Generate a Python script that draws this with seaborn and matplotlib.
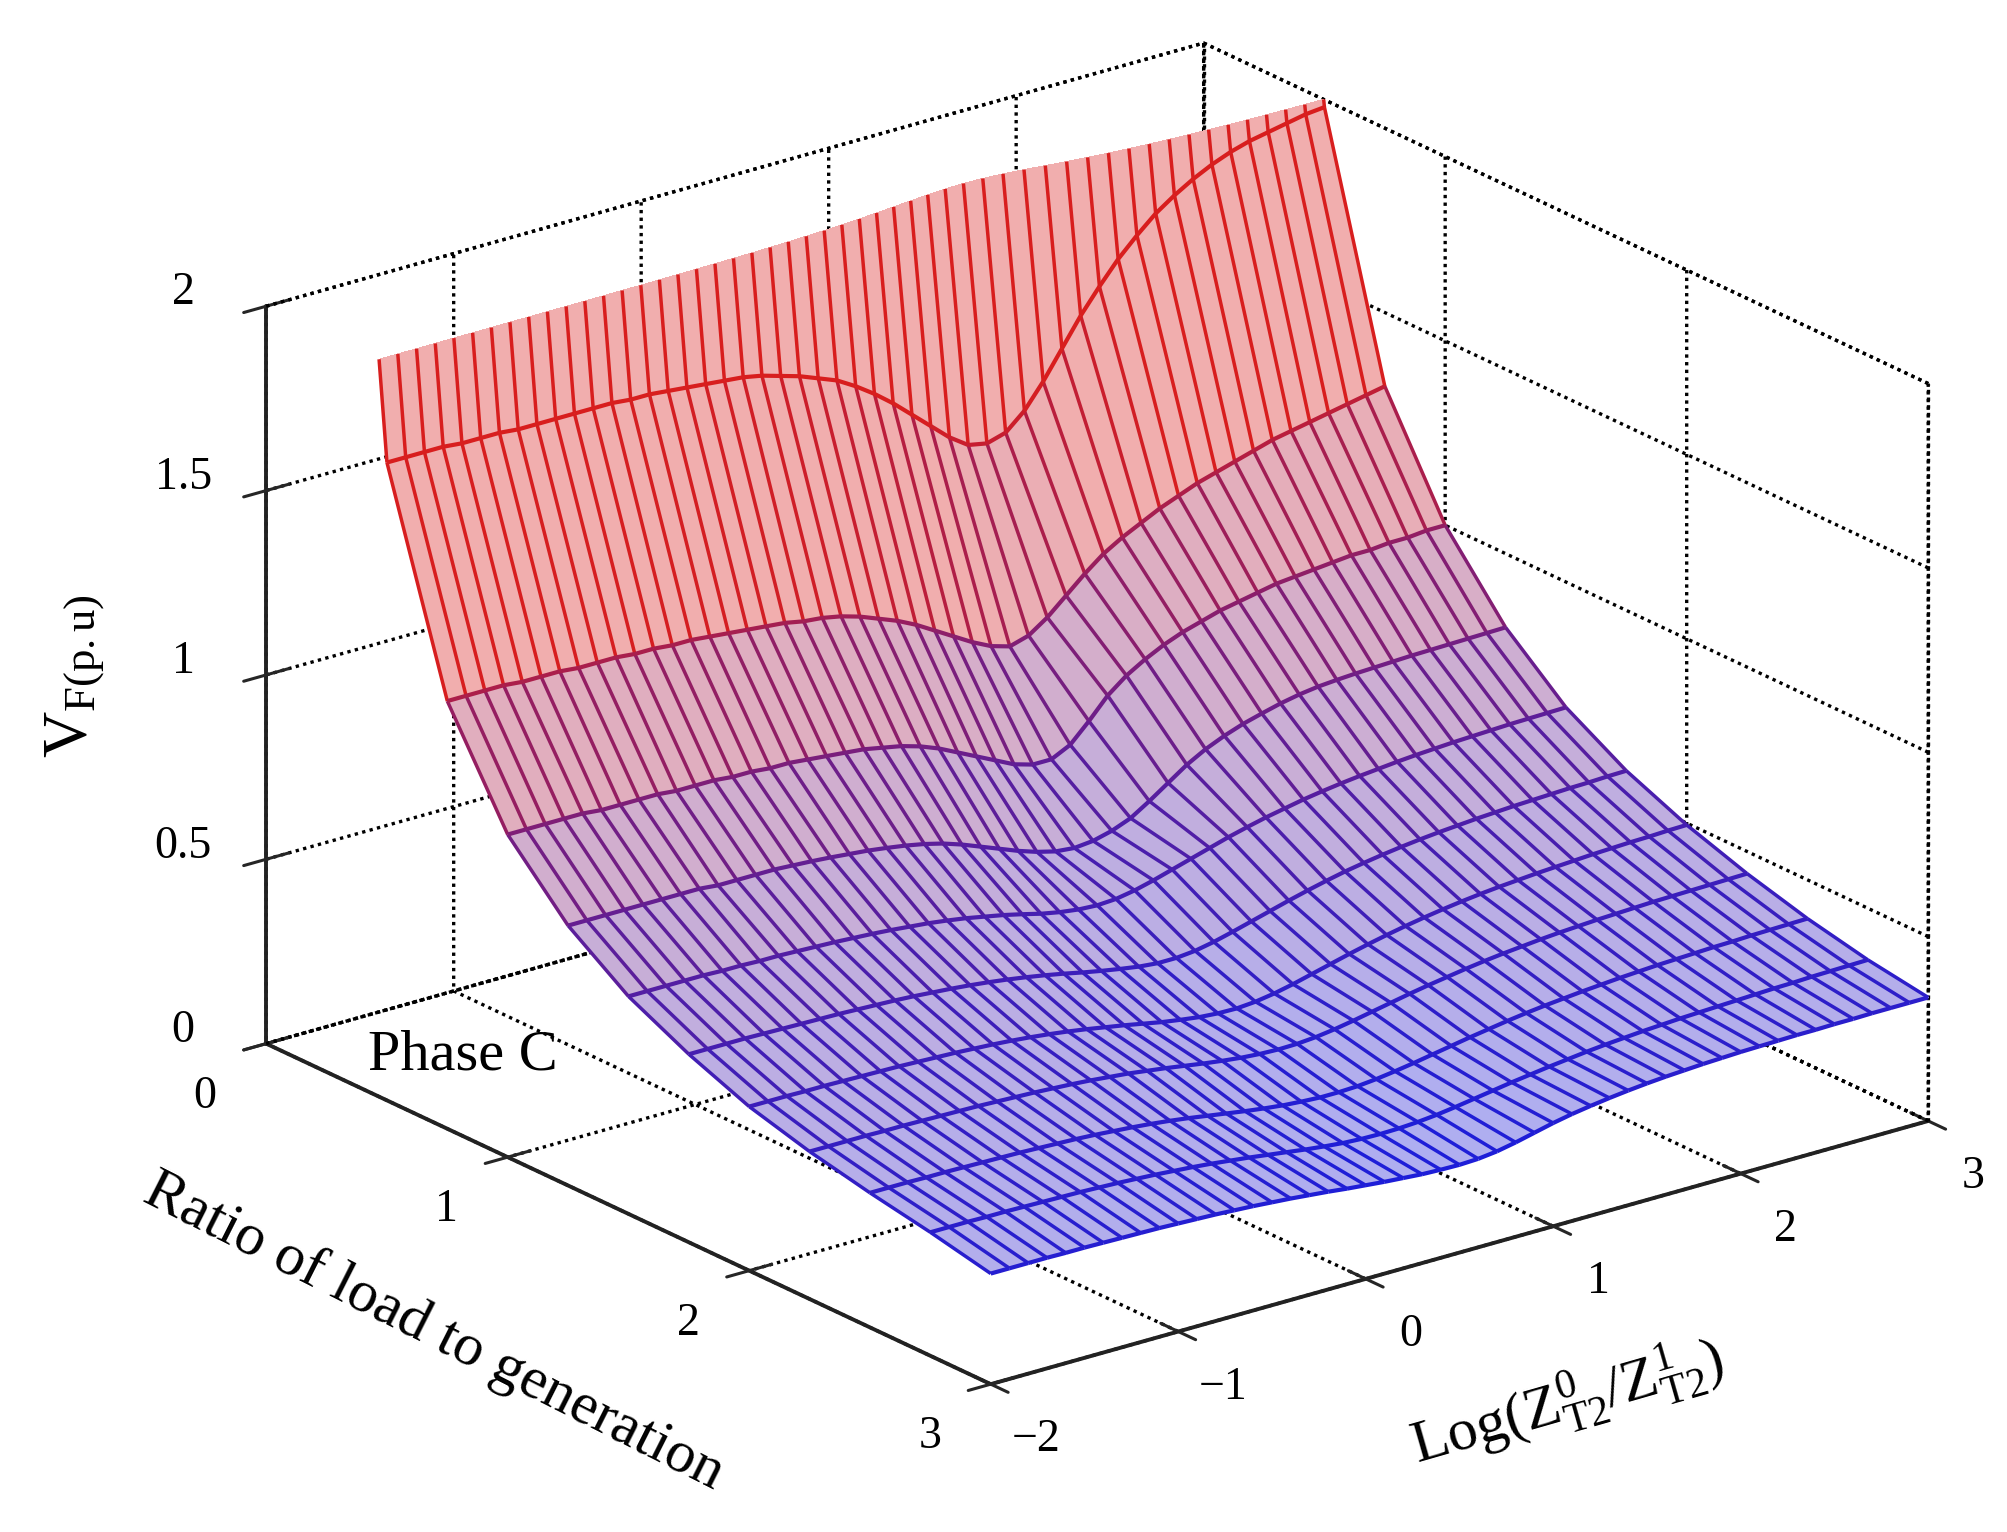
import numpy as np
import matplotlib
matplotlib.use("Agg")
import matplotlib.pyplot as plt
from matplotlib.ticker import NullFormatter
import seaborn as sns
from mpl_toolkits.mplot3d import proj3d
from mpl_toolkits.mplot3d.art3d import Line3DCollection

sns.set_theme(style="white")
plt.rcParams["font.family"] = ["Liberation Serif", "DejaVu Serif"]
plt.rcParams["mathtext.fontset"] = "custom"
plt.rcParams["mathtext.rm"] = "Liberation Serif"
plt.rcParams["mathtext.it"] = "Liberation Serif:italic"
plt.rcParams["axes.unicode_minus"] = True
plt.rcParams["text.color"] = "black"
plt.rcParams["axes.labelcolor"] = "black"

# grid of the surface: Log(Z0/Z1) and ratio of load to generation
log_ratio = [-2.0, -1.9, -1.8, -1.7, -1.6, -1.5, -1.4, -1.3, -1.2, -1.1, -1.0,
             -0.9, -0.8, -0.7, -0.6, -0.5, -0.4, -0.3, -0.2, -0.1, 0.0,
             0.1, 0.2, 0.3, 0.4, 0.5, 0.6, 0.7, 0.8, 0.9, 1.0,
             1.1, 1.2, 1.3, 1.4, 1.5, 1.6, 1.7, 1.8, 1.9, 2.0,
             2.1, 2.2, 2.3, 2.4, 2.5, 2.6, 2.7, 2.8, 2.9, 3.0]
load_ratio = [0.25, 0.5, 0.75, 1.0, 1.25, 1.5, 1.75, 2.0, 2.25, 2.5, 2.75, 3.0]

# V_F (p.u.) for each load ratio row (the 0.25 row lies above the z limit)
vf_025 = [3.80, 3.80, 3.79, 3.79, 3.78, 3.78, 3.77, 3.77, 3.76, 3.76, 3.75,
          3.74, 3.73, 3.72, 3.71, 3.70, 3.68, 3.66, 3.64, 3.62, 3.60,
          3.57, 3.54, 3.50, 3.46, 3.41, 3.36, 3.30, 3.24, 3.18, 3.12,
          3.08, 3.06, 3.08, 3.12, 3.18, 3.25, 3.32, 3.38, 3.43, 3.47,
          3.50, 3.53, 3.55, 3.57, 3.58, 3.59, 3.60, 3.61, 3.62, 3.62]
vf_050 = [1.73, 1.73, 1.73, 1.73, 1.725, 1.725, 1.725, 1.72, 1.72, 1.72, 1.72,
          1.72, 1.72, 1.715, 1.715, 1.71, 1.705, 1.70, 1.695, 1.69, 1.68,
          1.665, 1.65, 1.63, 1.61, 1.58, 1.545, 1.505, 1.46, 1.415, 1.37,
          1.335, 1.325, 1.34, 1.385, 1.45, 1.525, 1.60, 1.665, 1.725, 1.775,
          1.82, 1.855, 1.885, 1.91, 1.93, 1.945, 1.955, 1.965, 1.975, 1.98]
vf_075 = [1.16, 1.16, 1.16, 1.16, 1.155, 1.155, 1.155, 1.15, 1.15, 1.15, 1.145,
          1.145, 1.14, 1.14, 1.135, 1.13, 1.125, 1.12, 1.115, 1.105, 1.10,
          1.09, 1.075, 1.055, 1.035, 1.01, 0.98, 0.95, 0.92, 0.895, 0.88,
          0.895, 0.93, 0.975, 1.02, 1.06, 1.09, 1.115, 1.14, 1.16, 1.18,
          1.195, 1.21, 1.225, 1.24, 1.25, 1.26, 1.27, 1.28, 1.29, 1.30]
vf_100 = [0.875, 0.875, 0.875, 0.875, 0.875, 0.87, 0.87, 0.87, 0.87, 0.865, 0.865,
          0.865, 0.86, 0.86, 0.855, 0.855, 0.85, 0.845, 0.84, 0.835, 0.825,
          0.815, 0.80, 0.78, 0.755, 0.73, 0.705, 0.68, 0.665, 0.665, 0.69,
          0.74, 0.795, 0.835, 0.865, 0.89, 0.91, 0.925, 0.94, 0.95, 0.96,
          0.97, 0.975, 0.98, 0.985, 0.99, 0.99, 0.995, 0.995, 1.0, 1.0]
vf_125 = [0.705, 0.705, 0.705, 0.705, 0.705, 0.705, 0.705, 0.705, 0.70, 0.70, 0.70,
          0.70, 0.697, 0.694, 0.69, 0.685, 0.68, 0.673, 0.665, 0.655, 0.642,
          0.625, 0.605, 0.585, 0.565, 0.548, 0.535, 0.53, 0.535, 0.548, 0.568,
          0.60, 0.635, 0.67, 0.698, 0.72, 0.738, 0.752, 0.765, 0.775, 0.782,
          0.786, 0.789, 0.791, 0.793, 0.795, 0.796, 0.797, 0.798, 0.799, 0.80]
vf_150 = [0.59, 0.59, 0.59, 0.59, 0.59, 0.588, 0.588, 0.586, 0.586, 0.584, 0.582,
          0.58, 0.577, 0.574, 0.57, 0.565, 0.56, 0.553, 0.545, 0.535, 0.525,
          0.513, 0.50, 0.49, 0.483, 0.48, 0.483, 0.492, 0.505, 0.52, 0.535,
          0.55, 0.565, 0.578, 0.59, 0.60, 0.61, 0.618, 0.625, 0.631, 0.636,
          0.641, 0.645, 0.648, 0.651, 0.653, 0.655, 0.657, 0.658, 0.659, 0.66]
vf_175 = [0.51, 0.51, 0.51, 0.51, 0.509, 0.508, 0.507, 0.506, 0.505, 0.503, 0.501,
          0.499, 0.496, 0.492, 0.488, 0.483, 0.477, 0.47, 0.462, 0.453, 0.443,
          0.432, 0.422, 0.413, 0.405, 0.40, 0.40, 0.405, 0.415, 0.428, 0.442,
          0.456, 0.47, 0.483, 0.495, 0.506, 0.515, 0.523, 0.53, 0.536, 0.541,
          0.545, 0.549, 0.552, 0.555, 0.557, 0.559, 0.561, 0.562, 0.564, 0.565]
vf_200 = [0.445, 0.445, 0.445, 0.444, 0.444, 0.443, 0.442, 0.441, 0.44, 0.438, 0.436,
          0.434, 0.431, 0.428, 0.424, 0.419, 0.413, 0.406, 0.398, 0.389, 0.38,
          0.37, 0.36, 0.352, 0.345, 0.341, 0.34, 0.344, 0.352, 0.363, 0.376,
          0.389, 0.402, 0.414, 0.425, 0.435, 0.444, 0.452, 0.459, 0.465, 0.47,
          0.474, 0.478, 0.481, 0.484, 0.487, 0.489, 0.491, 0.492, 0.494, 0.495]
vf_225 = [0.40, 0.40, 0.40, 0.40, 0.399, 0.399, 0.398, 0.397, 0.396, 0.395, 0.393,
          0.391, 0.389, 0.386, 0.383, 0.379, 0.374, 0.369, 0.362, 0.355, 0.347,
          0.339, 0.332, 0.326, 0.322, 0.32, 0.321, 0.325, 0.332, 0.341, 0.351,
          0.361, 0.371, 0.38, 0.388, 0.396, 0.403, 0.409, 0.414, 0.419, 0.423,
          0.426, 0.429, 0.431, 0.433, 0.435, 0.436, 0.437, 0.438, 0.439, 0.44]
vf_250 = [0.365, 0.365, 0.365, 0.364, 0.364, 0.363, 0.362, 0.361, 0.36, 0.358, 0.356,
          0.354, 0.351, 0.347, 0.343, 0.338, 0.332, 0.325, 0.317, 0.309, 0.301,
          0.294, 0.288, 0.284, 0.281, 0.281, 0.283, 0.288, 0.295, 0.303, 0.312,
          0.321, 0.33, 0.338, 0.346, 0.353, 0.359, 0.364, 0.369, 0.373, 0.377,
          0.38, 0.383, 0.385, 0.387, 0.389, 0.39, 0.392, 0.393, 0.394, 0.395]
vf_275 = [0.335, 0.335, 0.335, 0.334, 0.334, 0.333, 0.332, 0.331, 0.33, 0.328, 0.326,
          0.323, 0.32, 0.316, 0.312, 0.307, 0.301, 0.295, 0.288, 0.281, 0.274,
          0.268, 0.263, 0.26, 0.259, 0.26, 0.263, 0.268, 0.275, 0.283, 0.291,
          0.299, 0.306, 0.313, 0.319, 0.325, 0.33, 0.334, 0.338, 0.341, 0.344,
          0.346, 0.348, 0.35, 0.352, 0.354, 0.355, 0.357, 0.358, 0.359, 0.36]
vf_300 = [0.30, 0.30, 0.30, 0.30, 0.299, 0.299, 0.298, 0.297, 0.296, 0.295, 0.293,
          0.291, 0.289, 0.286, 0.283, 0.279, 0.275, 0.27, 0.265, 0.259, 0.254,
          0.249, 0.245, 0.241, 0.239, 0.238, 0.24, 0.246, 0.256, 0.268, 0.28,
          0.29, 0.298, 0.305, 0.311, 0.316, 0.32, 0.323, 0.326, 0.328, 0.33,
          0.331, 0.332, 0.333, 0.333, 0.334, 0.334, 0.335, 0.335, 0.335, 0.335]

x_ticks = [-2, -1, 0, 1, 2, 3]
y_ticks = [0, 1, 2, 3]
z_ticks = [0, 0.5, 1, 1.5, 2]
z_tick_labels = ["0", "0.5", "1", "1.5", "2"]

vf = np.array([vf_025, vf_050, vf_075, vf_100, vf_125, vf_150,
               vf_175, vf_200, vf_225, vf_250, vf_275, vf_300])
X, Y = np.meshgrid(log_ratio, load_ratio)

# clip the first row at the z limit, the way MATLAB clips to the axes box
z_top = 2.0
frac = np.clip((z_top - vf[1]) / (vf[0] - vf[1]), 0, 1)
Yc = Y.astype(float).copy()
Zc = vf.copy()
Yc[0] = Y[1] - (Y[1] - Y[0]) * frac
Zc[0] = z_top

cmap = sns.blend_palette(["#1e1ed8", "#d81e1e"], as_cmap=True)
norm = plt.Normalize(0.25, 1.45)

W, H = 2008, 1532
fig = plt.figure(figsize=(W / 100, H / 100), dpi=100, facecolor="white")
ax = fig.add_axes([0.1, 0.1, 0.8 * H / W, 0.8], projection="3d")
ax.computed_zorder = False
ax.set_proj_type("ortho")
ax.set_box_aspect((1, 1, 0.668))
ax.view_init(elev=21.3, azim=-127.7)

xlim, ylim, zlim = (-2, 3), (0, 3), (0, 2)
dots = (0, (1, 1.3))

# dotted back edges of the axes box
x0, x1 = xlim
y0, y1 = ylim
z0, z1 = zlim
for ex, ey, ez in [((x0, x1), (y0, y0), (z1, z1)), ((x1, x1), (y0, y1), (z1, z1)),
                   ((x1, x1), (y0, y0), (z0, z1)), ((x1, x1), (y1, y1), (z0, z1)),
                   ((x0, x1), (y0, y0), (z0, z0)), ((x1, x1), (y0, y1), (z0, z0))]:
    ax.plot(ex, ey, ez, color="black", linestyle=dots, linewidth=2.4, zorder=0.5)

# opaque tinted fill behind the mesh lines
fc = cmap(norm(Zc))
fc[..., :3] = 0.36 * fc[..., :3] + 0.64
ax.plot_surface(X, Yc, Zc, facecolors=fc, rstride=1, cstride=1, shade=False,
                linewidth=0, antialiased=False, zorder=1)

pts = np.stack([X, Yc, Zc], axis=-1)
col_segs = np.concatenate([np.stack([pts[:-1, j], pts[1:, j]], axis=1)
                           for j in range(pts.shape[1])])
row_segs = np.concatenate([np.stack([pts[i, :-1], pts[i, 1:]], axis=1)
                           for i in range(1, pts.shape[0])])
for segs, lw, zo in [(col_segs, 2.5, 2), (row_segs, 3.0, 3)]:
    zmid = segs[:, :, 2].mean(axis=1)
    lc = Line3DCollection(segs, colors=cmap(norm(zmid)), linewidths=lw, zorder=zo)
    ax.add_collection3d(lc)

ax.set_xlim(*xlim)
ax.set_ylim(y1, y0)
ax.set_zlim(*zlim)
ax.set_xticks(x_ticks)
ax.set_yticks(y_ticks)
ax.set_zticks(z_ticks)
for axis in (ax.xaxis, ax.yaxis, ax.zaxis):
    axis.set_major_formatter(NullFormatter())
    axis.label.set_visible(False)
    axis.offsetText.set_visible(False)
    for t in axis.get_major_ticks():
        t.label1.set_visible(False)
        t.label2.set_visible(False)
    axis.set_pane_color((1, 1, 1, 1))
    axis.pane.set_edgecolor((1, 1, 1, 0))
    axis._axinfo["grid"].update(color="black", linestyle=dots, linewidth=2.4)
    axis._axinfo["tick"].update(inward_factor=0.3, outward_factor=0.3)
    axis._axinfo["tick"]["linewidth"] = {True: 2.2, False: 1.0}
    axis._axinfo["axisline"]["color"] = "#222222"
    axis.line.set_color("#222222")
    axis.line.set_linewidth(2.8)
ax.grid(True)


def to_pixels(x, y, z):
    xs, ys, _ = proj3d.proj_transform(x, y, z, ax.get_proj())
    return ax.transData.transform((xs, ys))


# place the box where the reference has it
targets = {(-2, 0, 0): (264, 1042), (3, 3, 0): (1930, 1120),
           (-2, 0, 2): (264, 302), (-2, 3, 0): (991, 1383), (3, 0, 2): (1206, 51)}
for _ in range(2):
    fig.canvas.draw()
    pos = ax.get_position()
    cx, cy = (pos.x0 + pos.width / 2) * W, (pos.y0 + pos.height / 2) * H
    S = pos.width * W
    rows, rhs = [], []
    for (px, py, pz), (tx, ty) in targets.items():
        dx, dy = to_pixels(px, py, pz)
        qx, qy = (dx - cx) / S, (dy - cy) / S
        rows.append([qx, 1, 0]); rhs.append(tx)
        rows.append([qy, 0, 1]); rhs.append(H - ty)
    sol = np.linalg.lstsq(np.array(rows), np.array(rhs), rcond=None)[0]
    S2, cx2, cy2 = sol
    ax.set_position([(cx2 - S2 / 2) / W, (cy2 - S2 / 2) / H, S2 / W, S2 / H])
fig.canvas.draw()

# tick labels beside the projected tick positions, offset as MATLAB does
def tick_text(x, y, z, s, ox, oy):
    px, py = to_pixels(x, y, z)
    fig.text((px + ox) / W, (py + oy) / H, s, fontsize=33, ha="center", va="center")

for v in x_ticks:
    tick_text(v, y1, z0, str(v).replace("-", "\u2212"), 45, -56)
for v in y_ticks:
    tick_text(x0, v, z0, str(v), -61, -53)
for v, s in zip(z_ticks, z_tick_labels):
    tick_text(x0, y0, v, s, -83, 13)

fig.text(463 / W, 1 - 1055 / H, "Phase C", fontsize=42, ha="center", va="center")
fig.text(75 / W, 1 - 676 / H, r"V$_{\mathrm{F(p.u)}}$", fontsize=46, rotation=90,
         ha="center", va="center")
fig.text(434 / W, 1 - 1332 / H, "Ratio of load to generation", fontsize=43,
         rotation=-26.8, ha="center", va="center", rotation_mode="anchor")
fig.text(1567 / W, 1 - 1403 / H,
         r"Log$(\mathrm{Z}_{\mathrm{T2}}^{0}/\mathrm{Z}_{\mathrm{T2}}^{1})$",
         fontsize=43, rotation=16, ha="center", va="center", rotation_mode="anchor")

fig.savefig("out.png", dpi=100, facecolor="white")
